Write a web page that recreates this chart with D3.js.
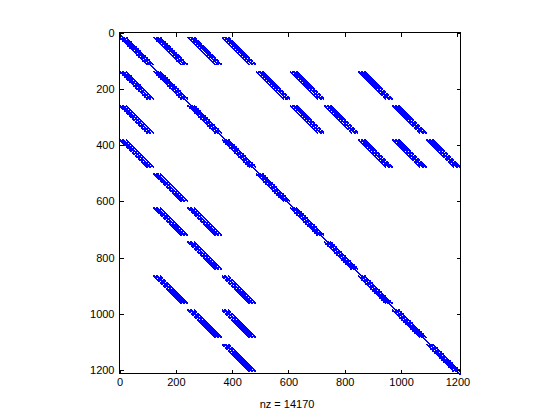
<!DOCTYPE html>
<html>
<head>
<meta charset="utf-8">
<script src="https://cdn.jsdelivr.net/npm/d3@7"></script>
<style>
  html, body { margin: 0; padding: 0; background: #fff; }
  svg { display: block; }
  text { font-family: "Liberation Sans", Arial, Helvetica, sans-serif; }
</style>
</head>
<body>
<svg id="chart" width="560" height="420"></svg>
<script>
// ---- Data: sparsity structure of a 10 x 10 block matrix (blocks of an 11 x 11 grid) ----
const numBlocks = 10;
const gridSize = 11;                       // each block = 11 x 11 grid = 121 unknowns
const couplingRowBlocks = [0, 0, 0, 1, 1, 1, 2, 2, 2, 3, 3, 3];
const couplingColBlocks = [1, 2, 3, 4, 5, 7, 5, 6, 8, 7, 8, 9];
const stencilOffsets = [-11, -1, 0, 1, 11]; // 5-point stencil
const xTickValues = [0, 200, 400, 600, 800, 1000, 1200];
const yTickValues = [0, 200, 400, 600, 800, 1000, 1200];
const xLabelPrefix = "nz = ";

// ---- Build nonzero list ----
const blockSize = gridSize * gridSize;
const nDim = numBlocks * blockSize;
const blockPairs = [];
for (let b = 0; b < numBlocks; b++) blockPairs.push([b, b]);
couplingRowBlocks.forEach((r, i) => {
  blockPairs.push([r, couplingColBlocks[i]]);
  blockPairs.push([couplingColBlocks[i], r]);
});
const nonzeros = [];
blockPairs.forEach(([I, J]) => {
  for (let r = 0; r < blockSize; r++) {
    const a = Math.floor(r / gridSize), b = r % gridSize;
    const interior = a > 0 && a < gridSize - 1 && b > 0 && b < gridSize - 1;
    if (interior) {
      stencilOffsets.forEach(o => nonzeros.push({ row: I * blockSize + r, col: J * blockSize + r + o }));
    } else if (I === J) {
      nonzeros.push({ row: I * blockSize + r, col: I * blockSize + r });
    }
  }
});

// ---- Layout ----
const svg = d3.select("#chart");
const pLeft = 119.5, pRight = 460.5, pTop = 32.5, pBottom = 373.5;
const x = d3.scaleLinear().domain([0, nDim + 1]).range([pLeft, pRight]);
const y = d3.scaleLinear().domain([0, nDim + 1]).range([pTop, pBottom]);

// points
const ms = 1.5;
svg.append("g")
  .attr("shape-rendering", "crispEdges")
  .selectAll("rect")
  .data(nonzeros)
  .join("rect")
  .attr("x", d => x(d.col + 1) - ms / 2)
  .attr("y", d => y(d.row + 1) - ms / 2 + 1.5)
  .attr("width", ms)
  .attr("height", ms)
  .attr("fill", "#0000ff");

// axes
const tickLen = 4;
const fmt = d3.format("d");
const styleAxis = g => {
  g.select(".domain").remove();
  g.selectAll(".tick line").attr("stroke", "#000").attr("shape-rendering", "crispEdges");
  g.selectAll(".tick text").attr("fill", "#000").style("font-size", "11px");
};
svg.append("g").attr("transform", `translate(0,${pBottom})`)
  .call(d3.axisBottom(x).tickValues(xTickValues).tickFormat(fmt).tickSizeInner(-tickLen).tickSizeOuter(0).tickPadding(5))
  .call(styleAxis);
svg.append("g").attr("transform", `translate(0,${pTop})`)
  .call(d3.axisTop(x).tickValues(xTickValues).tickSizeInner(-tickLen).tickSizeOuter(0).tickFormat(""))
  .call(styleAxis);
svg.append("g").attr("transform", `translate(${pLeft},0)`)
  .call(d3.axisLeft(y).tickValues(yTickValues).tickFormat(fmt).tickSizeInner(-tickLen).tickSizeOuter(0).tickPadding(5))
  .call(styleAxis);
svg.append("g").attr("transform", `translate(${pRight},0)`)
  .call(d3.axisRight(y).tickValues(yTickValues).tickSizeInner(-tickLen).tickSizeOuter(0).tickFormat(""))
  .call(styleAxis);

svg.append("rect")
  .attr("x", pLeft).attr("y", pTop)
  .attr("width", pRight - pLeft).attr("height", pBottom - pTop)
  .attr("fill", "none").attr("stroke", "#000").attr("stroke-width", 1)
  .attr("shape-rendering", "crispEdges");

svg.append("text")
  .attr("x", 287).attr("y", 408)
  .attr("text-anchor", "middle")
  .style("font-size", "11px")
  .attr("fill", "#000")
  .text(xLabelPrefix + nonzeros.length);
</script>
</body>
</html>
